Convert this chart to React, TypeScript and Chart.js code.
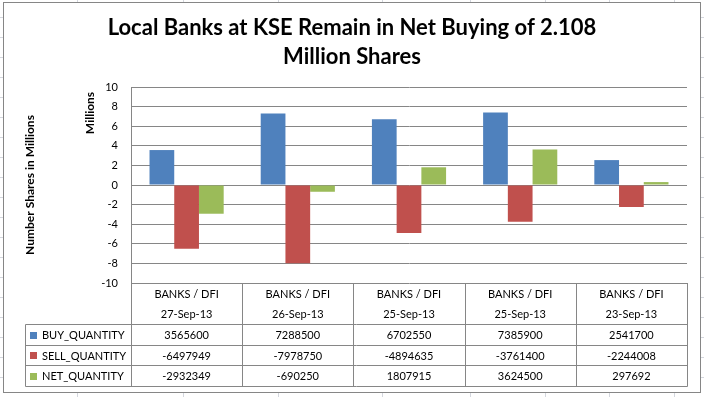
import React, { useEffect, useRef } from "react";
import { Chart, registerables } from "chart.js";

Chart.register(...registerables);

// ---------- data ----------
const titleLines = ["Local Banks at KSE Remain in Net Buying of 2.108", "Million Shares"];
const groupLabel = "BANKS / DFI";
const categories = ["27-Sep-13", "26-Sep-13", "25-Sep-13", "25-Sep-13", "23-Sep-13"];
const seriesNames = ["BUY_QUANTITY", "SELL_QUANTITY", "NET_QUANTITY"];
const buyQty = [3565600, 7288500, 6702550, 7385900, 2541700];
const sellQty = [-6497949, -7978750, -4894635, -3761400, -2244008];
const netQty = [-2932349, -690250, 1807915, 3624500, 297692];
const seriesColors = ["#4F81BD", "#C0504D", "#9BBB59"];
const yMin = -10;
const yMax = 10;
const yStep = 2;
const yAxisTitle = "Number Shares in Millions";
const unitLabel = "Millions";

const FONT = "Lato, 'Open Sans', sans-serif";
const GRID = "#868686";

const allSeries = [buyQty, sellQty, netQty];

export default function App() {
  const ref = useRef<HTMLCanvasElement>(null);

  useEffect(() => {
    const canvas = ref.current!;

    const sheetPlugin = {
      id: "sheet",
      beforeDraw(chart: any) {
        const ctx = chart.ctx as CanvasRenderingContext2D;
        ctx.save();
        ctx.fillStyle = "#ffffff";
        ctx.fillRect(0, 0, 704, 397);
        ctx.strokeStyle = "#d4d7de";
        ctx.lineWidth = 1;
        const cols = [77, 183, 278, 382, 470, 545, 609, 674];
        cols.forEach((x) => {
          ctx.beginPath();
          ctx.moveTo(x + 0.5, 0);
          ctx.lineTo(x + 0.5, 397);
          ctx.stroke();
        });
        for (let y = 17; y < 397; y += 20) {
          ctx.beginPath();
          ctx.moveTo(0, y + 0.5);
          ctx.lineTo(704, y + 0.5);
          ctx.stroke();
        }
        ctx.fillStyle = "#ffffff";
        ctx.fillRect(3, 2, 698, 391);
        ctx.strokeStyle = GRID;
        ctx.strokeRect(3.5, 2.5, 697, 390);
        ctx.restore();
      },
    };

    const decorPlugin = {
      id: "decor",
      afterDraw(chart: any) {
        const ctx = chart.ctx as CanvasRenderingContext2D;
        const area = chart.chartArea;
        const xs = chart.scales.x;
        ctx.save();

        // title
        ctx.fillStyle = "#000";
        ctx.textAlign = "center";
        ctx.textBaseline = "middle";
        ctx.font = `bold 22px ${FONT}`;
        ctx.fillText(titleLines[0], 352, 28);
        ctx.fillText(titleLines[1], 352, 57);

        // rotated axis titles
        ctx.font = `bold 12px ${FONT}`;
        ctx.save();
        ctx.translate(30, 185);
        ctx.rotate(-Math.PI / 2);
        ctx.fillText(yAxisTitle, 0, 0);
        ctx.restore();
        ctx.save();
        ctx.translate(90, 113);
        ctx.rotate(-Math.PI / 2);
        ctx.fillText(unitLabel, 0, 0);
        ctx.restore();

        // data table
        const top = area.bottom;
        const rowY = [324, 345, 365, 386];
        const legendLeft = 25;
        const n = categories.length;
        const colW = (area.right - area.left) / n;
        ctx.strokeStyle = GRID;
        ctx.lineWidth = 1;
        for (let i = 0; i <= n; i++) {
          const x = Math.round(area.left + i * colW) + 0.5;
          ctx.beginPath();
          ctx.moveTo(x, top);
          ctx.lineTo(x, rowY[3] + 0.5);
          ctx.stroke();
        }
        rowY.forEach((y) => {
          ctx.beginPath();
          ctx.moveTo(legendLeft + 0.5, y + 0.5);
          ctx.lineTo(area.right + 0.5, y + 0.5);
          ctx.stroke();
        });
        ctx.beginPath();
        ctx.moveTo(legendLeft + 0.5, rowY[0] + 0.5);
        ctx.lineTo(legendLeft + 0.5, rowY[3] + 0.5);
        ctx.stroke();

        ctx.font = `11px ${FONT}`;
        ctx.fillStyle = "#000";
        ctx.textAlign = "center";
        ctx.textBaseline = "middle";
        categories.forEach((c, i) => {
          const cx = xs.getPixelForValue(i);
          ctx.fillText(groupLabel, cx, 294);
          ctx.fillText(c, cx, 314);
          allSeries.forEach((s, r) => {
            const cy = (rowY[r] + rowY[r + 1]) / 2 + 1;
            ctx.fillText(String(s[i]), cx, cy);
          });
        });

        ctx.textAlign = "left";
        seriesNames.forEach((name, r) => {
          const cy = (rowY[r] + rowY[r + 1]) / 2 + 1;
          ctx.fillStyle = seriesColors[r];
          ctx.fillRect(30, Math.round(cy - 4), 7, 7);
          ctx.fillStyle = "#000";
          ctx.fillText(name, 42, cy);
        });

        ctx.restore();
      },
    };

    const chart = new Chart(canvas, {
      type: "bar",
      data: {
        labels: categories,
        datasets: seriesNames.map((name, i) => ({
          label: name,
          data: allSeries[i].map((v) => v / 1e6),
          backgroundColor: seriesColors[i],
          borderWidth: 0,
          categoryPercentage: 0.667,
          barPercentage: 1,
        })),
      },
      options: {
        responsive: false,
        animation: false,
        devicePixelRatio: 1,
        layout: { padding: { left: 0, right: 17, top: 87, bottom: 114 } },
        plugins: {
          legend: { display: false },
          title: { display: false },
          tooltip: { enabled: false },
        },
        scales: {
          x: { display: false },
          y: {
            min: yMin,
            max: yMax,
            afterFit(scale: any) {
              scale.width = 131;
            },
            ticks: {
              stepSize: yStep,
              padding: 13,
              color: "#000",
              font: { family: FONT, size: 11 },
            },
            grid: { color: GRID, drawTicks: false, lineWidth: 1 },
            border: { display: true, color: GRID },
          },
        },
      },
      plugins: [sheetPlugin, decorPlugin],
    } as any);

    return () => chart.destroy();
  }, []);

  return (
    <div style={{ position: "absolute", left: 0, top: 0, width: 704, height: 397 }}>
      <canvas ref={ref} width={704} height={397} style={{ display: "block" }} />
    </div>
  );
}
